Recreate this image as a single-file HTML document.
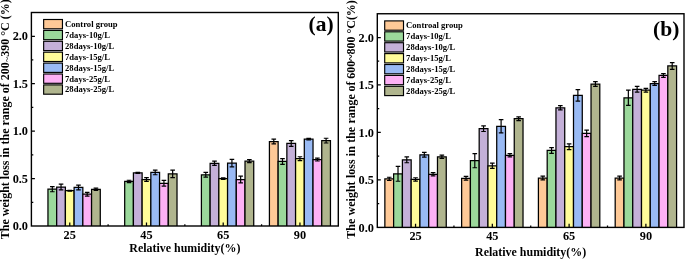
<!DOCTYPE html>
<html><head><meta charset="utf-8"><title>Weight loss vs relative humidity</title>
<style>html,body{margin:0;padding:0;background:#fff;}body{width:685px;height:259px;overflow:hidden;}svg{display:block;}text{font-family:"Liberation Serif",serif;font-weight:bold;}</style>
</head><body>
<svg width="685" height="259" viewBox="0 0 685 259" font-family="'Liberation Serif', serif" font-weight="bold" fill="#000">
<path d="M47.96 226.00V189.19h8.72V226.00" fill="#9BD89B" stroke="#000" stroke-width="1.25"/>
<path d="M56.68 226.00V187.01h8.72V226.00" fill="#C4B0D8" stroke="#000" stroke-width="1.25"/>
<path d="M65.40 226.00V190.71h8.72V226.00" fill="#FFFC99" stroke="#000" stroke-width="1.25"/>
<path d="M74.12 226.00V187.48h8.72V226.00" fill="#99BAF4" stroke="#000" stroke-width="1.25"/>
<path d="M82.84 226.00V194.22h8.72V226.00" fill="#FDB1F5" stroke="#000" stroke-width="1.25"/>
<path d="M91.56 226.00V189.29h8.72V226.00" fill="#B0B58E" stroke="#000" stroke-width="1.25"/>
<path d="M52.32 186.63V191.75M50.02 186.63h4.60M50.02 191.75h4.60" stroke="#000" stroke-width="1.2" fill="none"/>
<path d="M61.04 184.16V189.85M58.74 184.16h4.60M58.74 189.85h4.60" stroke="#000" stroke-width="1.2" fill="none"/>
<path d="M69.76 190.23V191.18M67.46 190.23h4.60M67.46 191.18h4.60" stroke="#000" stroke-width="1.2" fill="none"/>
<path d="M78.48 185.11V189.85M76.18 185.11h4.60M76.18 189.85h4.60" stroke="#000" stroke-width="1.2" fill="none"/>
<path d="M87.20 192.32V196.12M84.90 192.32h4.60M84.90 196.12h4.60" stroke="#000" stroke-width="1.2" fill="none"/>
<path d="M95.92 188.15V190.42M93.62 188.15h4.60M93.62 190.42h4.60" stroke="#000" stroke-width="1.2" fill="none"/>
<path d="M124.69 226.00V181.41h8.72V226.00" fill="#9BD89B" stroke="#000" stroke-width="1.25"/>
<path d="M133.41 226.00V172.87h8.72V226.00" fill="#C4B0D8" stroke="#000" stroke-width="1.25"/>
<path d="M142.13 226.00V179.51h8.72V226.00" fill="#FFFC99" stroke="#000" stroke-width="1.25"/>
<path d="M150.85 226.00V172.40h8.72V226.00" fill="#99BAF4" stroke="#000" stroke-width="1.25"/>
<path d="M159.57 226.00V183.31h8.72V226.00" fill="#FDB1F5" stroke="#000" stroke-width="1.25"/>
<path d="M168.29 226.00V173.82h8.72V226.00" fill="#B0B58E" stroke="#000" stroke-width="1.25"/>
<path d="M129.05 180.27V182.55M126.75 180.27h4.60M126.75 182.55h4.60" stroke="#000" stroke-width="1.2" fill="none"/>
<path d="M137.77 172.40V173.35M135.47 172.40h4.60M135.47 173.35h4.60" stroke="#000" stroke-width="1.2" fill="none"/>
<path d="M146.49 177.62V181.41M144.19 177.62h4.60M144.19 181.41h4.60" stroke="#000" stroke-width="1.2" fill="none"/>
<path d="M155.21 170.03V174.77M152.91 170.03h4.60M152.91 174.77h4.60" stroke="#000" stroke-width="1.2" fill="none"/>
<path d="M163.93 180.46V186.15M161.63 180.46h4.60M161.63 186.15h4.60" stroke="#000" stroke-width="1.2" fill="none"/>
<path d="M172.65 170.03V177.62M170.35 170.03h4.60M170.35 177.62h4.60" stroke="#000" stroke-width="1.2" fill="none"/>
<path d="M201.41 226.00V174.77h8.72V226.00" fill="#9BD89B" stroke="#000" stroke-width="1.25"/>
<path d="M210.13 226.00V163.29h8.72V226.00" fill="#C4B0D8" stroke="#000" stroke-width="1.25"/>
<path d="M218.85 226.00V178.56h8.72V226.00" fill="#FFFC99" stroke="#000" stroke-width="1.25"/>
<path d="M227.57 226.00V163.10h8.72V226.00" fill="#99BAF4" stroke="#000" stroke-width="1.25"/>
<path d="M236.29 226.00V179.51h8.72V226.00" fill="#FDB1F5" stroke="#000" stroke-width="1.25"/>
<path d="M245.01 226.00V161.20h8.72V226.00" fill="#B0B58E" stroke="#000" stroke-width="1.25"/>
<path d="M205.77 172.40V177.14M203.47 172.40h4.60M203.47 177.14h4.60" stroke="#000" stroke-width="1.2" fill="none"/>
<path d="M214.49 161.20V165.38M212.19 161.20h4.60M212.19 165.38h4.60" stroke="#000" stroke-width="1.2" fill="none"/>
<path d="M223.21 177.81V179.32M220.91 177.81h4.60M220.91 179.32h4.60" stroke="#000" stroke-width="1.2" fill="none"/>
<path d="M231.93 159.31V166.90M229.63 159.31h4.60M229.63 166.90h4.60" stroke="#000" stroke-width="1.2" fill="none"/>
<path d="M240.65 176.19V182.83M238.35 176.19h4.60M238.35 182.83h4.60" stroke="#000" stroke-width="1.2" fill="none"/>
<path d="M249.37 159.69V162.72M247.07 159.69h4.60M247.07 162.72h4.60" stroke="#000" stroke-width="1.2" fill="none"/>
<path d="M269.42 226.00V141.57h8.72V226.00" fill="#FEC997" stroke="#000" stroke-width="1.25"/>
<path d="M278.14 226.00V161.49h8.72V226.00" fill="#9BD89B" stroke="#000" stroke-width="1.25"/>
<path d="M286.86 226.00V143.46h8.72V226.00" fill="#C4B0D8" stroke="#000" stroke-width="1.25"/>
<path d="M295.58 226.00V158.64h8.72V226.00" fill="#FFFC99" stroke="#000" stroke-width="1.25"/>
<path d="M304.30 226.00V139.19h8.72V226.00" fill="#99BAF4" stroke="#000" stroke-width="1.25"/>
<path d="M313.02 226.00V159.59h8.72V226.00" fill="#FDB1F5" stroke="#000" stroke-width="1.25"/>
<path d="M321.74 226.00V140.62h8.72V226.00" fill="#B0B58E" stroke="#000" stroke-width="1.25"/>
<path d="M273.78 139.19V143.94M271.48 139.19h4.60M271.48 143.94h4.60" stroke="#000" stroke-width="1.2" fill="none"/>
<path d="M282.50 158.64V164.33M280.20 158.64h4.60M280.20 164.33h4.60" stroke="#000" stroke-width="1.2" fill="none"/>
<path d="M291.22 140.62V146.31M288.92 140.62h4.60M288.92 146.31h4.60" stroke="#000" stroke-width="1.2" fill="none"/>
<path d="M299.94 156.74V160.54M297.64 156.74h4.60M297.64 160.54h4.60" stroke="#000" stroke-width="1.2" fill="none"/>
<path d="M308.66 138.43V139.95M306.36 138.43h4.60M306.36 139.95h4.60" stroke="#000" stroke-width="1.2" fill="none"/>
<path d="M317.38 158.17V161.01M315.08 158.17h4.60M315.08 161.01h4.60" stroke="#000" stroke-width="1.2" fill="none"/>
<path d="M326.10 138.25V142.99M323.80 138.25h4.60M323.80 142.99h4.60" stroke="#000" stroke-width="1.2" fill="none"/>
<rect x="31.40" y="12.50" width="306.90" height="213.50" fill="none" stroke="#000" stroke-width="1.4"/>
<path d="M31.40 202.28h1.9M31.40 178.56h3.5M31.40 154.85h1.9M31.40 131.13h3.5M31.40 107.41h1.9M31.40 83.69h3.5M31.40 59.98h1.9M31.40 36.26h3.5M69.76 226.00v-3.6M146.49 226.00v-3.6M223.21 226.00v-3.6M299.94 226.00v-3.6M108.12 226.00v-1.8M184.85 226.00v-1.8M261.58 226.00v-1.8" stroke="#000" stroke-width="1.25" fill="none"/>
<text x="28.00" y="230.10" text-anchor="end" font-size="12.3">0.0</text>
<text x="28.00" y="182.66" text-anchor="end" font-size="12.3">0.5</text>
<text x="28.00" y="135.23" text-anchor="end" font-size="12.3">1.0</text>
<text x="28.00" y="87.79" text-anchor="end" font-size="12.3">1.5</text>
<text x="28.00" y="40.36" text-anchor="end" font-size="12.3">2.0</text>
<text x="69.76" y="238.90" text-anchor="middle" font-size="12.3">25</text>
<text x="146.49" y="238.90" text-anchor="middle" font-size="12.3">45</text>
<text x="223.21" y="238.90" text-anchor="middle" font-size="12.3">65</text>
<text x="299.94" y="238.90" text-anchor="middle" font-size="12.3">90</text>
<text x="184.85" y="251.50" text-anchor="middle" font-size="11.95">Relative humidity(%)</text>
<text transform="translate(8.50 119.22) rotate(-90)" text-anchor="middle" font-size="12.0">The weight loss in the range of 200<tspan dy="1.1" font-weight="normal" font-size="10">~</tspan><tspan dy="-1.1">390 °C (%)</tspan></text>
<text x="333.60" y="31.30" text-anchor="end" font-size="21.5">(a)</text>
<rect x="43.65" y="19.50" width="18.8" height="9.3" fill="#FEC997" stroke="#000" stroke-width="1.15"/>
<text x="65.05" y="27.00" font-size="8.6">Control group</text>
<rect x="43.65" y="30.40" width="18.8" height="9.3" fill="#9BD89B" stroke="#000" stroke-width="1.15"/>
<text x="65.05" y="37.90" font-size="8.6">7days-10g/L</text>
<rect x="43.65" y="41.30" width="18.8" height="9.3" fill="#C4B0D8" stroke="#000" stroke-width="1.15"/>
<text x="65.05" y="48.80" font-size="8.6">28days-10g/L</text>
<rect x="43.65" y="52.20" width="18.8" height="9.3" fill="#FFFC99" stroke="#000" stroke-width="1.15"/>
<text x="65.05" y="59.70" font-size="8.6">7days-15g/L</text>
<rect x="43.65" y="63.10" width="18.8" height="9.3" fill="#99BAF4" stroke="#000" stroke-width="1.15"/>
<text x="65.05" y="70.60" font-size="8.6">28days-15g/L</text>
<rect x="43.65" y="74.00" width="18.8" height="9.3" fill="#FDB1F5" stroke="#000" stroke-width="1.15"/>
<text x="65.05" y="81.50" font-size="8.6">7days-25g/L</text>
<rect x="43.65" y="84.90" width="18.8" height="9.3" fill="#B0B58E" stroke="#000" stroke-width="1.15"/>
<text x="65.05" y="92.40" font-size="8.6">28days-25g/L</text>
<path d="M384.86 227.40V178.88h8.77V227.40" fill="#FEC997" stroke="#000" stroke-width="1.25"/>
<path d="M393.62 227.40V173.85h8.77V227.40" fill="#9BD89B" stroke="#000" stroke-width="1.25"/>
<path d="M402.40 227.40V159.80h8.77V227.40" fill="#C4B0D8" stroke="#000" stroke-width="1.25"/>
<path d="M411.17 227.40V179.45h8.77V227.40" fill="#FFFC99" stroke="#000" stroke-width="1.25"/>
<path d="M419.94 227.40V154.76h8.77V227.40" fill="#99BAF4" stroke="#000" stroke-width="1.25"/>
<path d="M428.70 227.40V174.32h8.77V227.40" fill="#FDB1F5" stroke="#000" stroke-width="1.25"/>
<path d="M437.48 227.40V156.76h8.77V227.40" fill="#B0B58E" stroke="#000" stroke-width="1.25"/>
<path d="M389.24 177.27V180.49M386.94 177.27h4.60M386.94 180.49h4.60" stroke="#000" stroke-width="1.2" fill="none"/>
<path d="M398.01 166.44V181.25M395.71 166.44h4.60M395.71 181.25h4.60" stroke="#000" stroke-width="1.2" fill="none"/>
<path d="M406.78 156.85V162.74M404.48 156.85h4.60M404.48 162.74h4.60" stroke="#000" stroke-width="1.2" fill="none"/>
<path d="M415.55 177.74V181.16M413.25 177.74h4.60M413.25 181.16h4.60" stroke="#000" stroke-width="1.2" fill="none"/>
<path d="M424.32 152.39V157.14M422.02 152.39h4.60M422.02 157.14h4.60" stroke="#000" stroke-width="1.2" fill="none"/>
<path d="M433.09 172.71V175.94M430.79 172.71h4.60M430.79 175.94h4.60" stroke="#000" stroke-width="1.2" fill="none"/>
<path d="M441.86 155.05V158.47M439.56 155.05h4.60M439.56 158.47h4.60" stroke="#000" stroke-width="1.2" fill="none"/>
<path d="M461.64 227.40V178.31h8.77V227.40" fill="#FEC997" stroke="#000" stroke-width="1.25"/>
<path d="M470.41 227.40V160.65h8.77V227.40" fill="#9BD89B" stroke="#000" stroke-width="1.25"/>
<path d="M479.18 227.40V128.65h8.77V227.40" fill="#C4B0D8" stroke="#000" stroke-width="1.25"/>
<path d="M487.95 227.40V165.78h8.77V227.40" fill="#FFFC99" stroke="#000" stroke-width="1.25"/>
<path d="M496.72 227.40V126.28h8.77V227.40" fill="#99BAF4" stroke="#000" stroke-width="1.25"/>
<path d="M505.49 227.40V155.33h8.77V227.40" fill="#FDB1F5" stroke="#000" stroke-width="1.25"/>
<path d="M514.25 227.40V118.68h8.77V227.40" fill="#B0B58E" stroke="#000" stroke-width="1.25"/>
<path d="M466.02 176.41V180.21M463.72 176.41h4.60M463.72 180.21h4.60" stroke="#000" stroke-width="1.2" fill="none"/>
<path d="M474.79 153.53V167.77M472.49 153.53h4.60M472.49 167.77h4.60" stroke="#000" stroke-width="1.2" fill="none"/>
<path d="M483.56 125.80V131.50M481.26 125.80h4.60M481.26 131.50h4.60" stroke="#000" stroke-width="1.2" fill="none"/>
<path d="M492.33 163.21V168.34M490.03 163.21h4.60M490.03 168.34h4.60" stroke="#000" stroke-width="1.2" fill="none"/>
<path d="M501.10 119.63V132.92M498.80 119.63h4.60M498.80 132.92h4.60" stroke="#000" stroke-width="1.2" fill="none"/>
<path d="M509.87 153.72V156.95M507.57 153.72h4.60M507.57 156.95h4.60" stroke="#000" stroke-width="1.2" fill="none"/>
<path d="M518.64 116.78V120.58M516.34 116.78h4.60M516.34 120.58h4.60" stroke="#000" stroke-width="1.2" fill="none"/>
<path d="M538.41 227.40V178.03h8.77V227.40" fill="#FEC997" stroke="#000" stroke-width="1.25"/>
<path d="M547.19 227.40V150.49h8.77V227.40" fill="#9BD89B" stroke="#000" stroke-width="1.25"/>
<path d="M555.96 227.40V107.76h8.77V227.40" fill="#C4B0D8" stroke="#000" stroke-width="1.25"/>
<path d="M564.73 227.40V146.69h8.77V227.40" fill="#FFFC99" stroke="#000" stroke-width="1.25"/>
<path d="M573.50 227.40V95.42h8.77V227.40" fill="#99BAF4" stroke="#000" stroke-width="1.25"/>
<path d="M582.26 227.40V133.40h8.77V227.40" fill="#FDB1F5" stroke="#000" stroke-width="1.25"/>
<path d="M591.03 227.40V84.03h8.77V227.40" fill="#B0B58E" stroke="#000" stroke-width="1.25"/>
<path d="M542.80 176.13V179.93M540.50 176.13h4.60M540.50 179.93h4.60" stroke="#000" stroke-width="1.2" fill="none"/>
<path d="M551.57 147.64V153.34M549.27 147.64h4.60M549.27 153.34h4.60" stroke="#000" stroke-width="1.2" fill="none"/>
<path d="M560.34 105.67V109.85M558.04 105.67h4.60M558.04 109.85h4.60" stroke="#000" stroke-width="1.2" fill="none"/>
<path d="M569.11 143.84V149.54M566.81 143.84h4.60M566.81 149.54h4.60" stroke="#000" stroke-width="1.2" fill="none"/>
<path d="M577.88 89.72V101.12M575.58 89.72h4.60M575.58 101.12h4.60" stroke="#000" stroke-width="1.2" fill="none"/>
<path d="M586.65 130.08V136.72M584.35 130.08h4.60M584.35 136.72h4.60" stroke="#000" stroke-width="1.2" fill="none"/>
<path d="M595.42 81.65V86.40M593.12 81.65h4.60M593.12 86.40h4.60" stroke="#000" stroke-width="1.2" fill="none"/>
<path d="M615.19 227.40V178.03h8.77V227.40" fill="#FEC997" stroke="#000" stroke-width="1.25"/>
<path d="M623.97 227.40V97.79h8.77V227.40" fill="#9BD89B" stroke="#000" stroke-width="1.25"/>
<path d="M632.74 227.40V89.25h8.77V227.40" fill="#C4B0D8" stroke="#000" stroke-width="1.25"/>
<path d="M641.50 227.40V90.20h8.77V227.40" fill="#FFFC99" stroke="#000" stroke-width="1.25"/>
<path d="M650.27 227.40V83.55h8.77V227.40" fill="#99BAF4" stroke="#000" stroke-width="1.25"/>
<path d="M659.04 227.40V75.48h8.77V227.40" fill="#FDB1F5" stroke="#000" stroke-width="1.25"/>
<path d="M667.81 227.40V65.99h8.77V227.40" fill="#B0B58E" stroke="#000" stroke-width="1.25"/>
<path d="M619.58 176.13V179.93M617.28 176.13h4.60M617.28 179.93h4.60" stroke="#000" stroke-width="1.2" fill="none"/>
<path d="M628.35 90.20V105.39M626.05 90.20h4.60M626.05 105.39h4.60" stroke="#000" stroke-width="1.2" fill="none"/>
<path d="M637.12 86.40V92.10M634.82 86.40h4.60M634.82 92.10h4.60" stroke="#000" stroke-width="1.2" fill="none"/>
<path d="M645.89 88.30V92.10M643.59 88.30h4.60M643.59 92.10h4.60" stroke="#000" stroke-width="1.2" fill="none"/>
<path d="M654.66 81.65V85.45M652.36 81.65h4.60M652.36 85.45h4.60" stroke="#000" stroke-width="1.2" fill="none"/>
<path d="M663.43 73.58V77.38M661.13 73.58h4.60M661.13 77.38h4.60" stroke="#000" stroke-width="1.2" fill="none"/>
<path d="M672.20 62.66V69.31M669.90 62.66h4.60M669.90 69.31h4.60" stroke="#000" stroke-width="1.2" fill="none"/>
<rect x="377.30" y="13.75" width="306.70" height="213.65" fill="none" stroke="#000" stroke-width="1.4"/>
<path d="M377.30 203.66h1.9M377.30 179.93h3.5M377.30 156.19h1.9M377.30 132.45h3.5M377.30 108.71h1.9M377.30 84.97h3.5M377.30 61.24h1.9M377.30 37.50h3.5M415.55 227.40v-3.6M492.33 227.40v-3.6M569.11 227.40v-3.6M645.89 227.40v-3.6M453.94 227.40v-1.8M530.72 227.40v-1.8M607.50 227.40v-1.8" stroke="#000" stroke-width="1.25" fill="none"/>
<text x="373.90" y="231.50" text-anchor="end" font-size="12.3">0.0</text>
<text x="373.90" y="184.03" text-anchor="end" font-size="12.3">0.5</text>
<text x="373.90" y="136.55" text-anchor="end" font-size="12.3">1.0</text>
<text x="373.90" y="89.07" text-anchor="end" font-size="12.3">1.5</text>
<text x="373.90" y="41.60" text-anchor="end" font-size="12.3">2.0</text>
<text x="415.55" y="240.30" text-anchor="middle" font-size="12.3">25</text>
<text x="492.33" y="240.30" text-anchor="middle" font-size="12.3">45</text>
<text x="569.11" y="240.30" text-anchor="middle" font-size="12.3">65</text>
<text x="645.89" y="240.30" text-anchor="middle" font-size="12.3">90</text>
<text x="530.65" y="256.10" text-anchor="middle" font-size="11.95">Relative humidity(%)</text>
<text transform="translate(354.80 119.40) rotate(-90)" text-anchor="middle" font-size="12.0">The<tspan dx="0.28"> weight</tspan><tspan dx="0.28"> loss</tspan><tspan dx="0.28"> in</tspan><tspan dx="0.28"> the</tspan><tspan dx="0.28"> range</tspan><tspan dx="-0.2"> of</tspan><tspan dx="-0.2"> 600~800</tspan><tspan dx="-0.2"> °C(%)</tspan></text>
<text x="679.30" y="36.20" text-anchor="end" font-size="21.5">(b)</text>
<rect x="384.70" y="20.90" width="18.8" height="9.3" fill="#FEC997" stroke="#000" stroke-width="1.15"/>
<text x="406.10" y="28.40" font-size="8.6">Controal group</text>
<rect x="384.70" y="31.80" width="18.8" height="9.3" fill="#9BD89B" stroke="#000" stroke-width="1.15"/>
<text x="406.10" y="39.30" font-size="8.6">7days-10g/L</text>
<rect x="384.70" y="42.70" width="18.8" height="9.3" fill="#C4B0D8" stroke="#000" stroke-width="1.15"/>
<text x="406.10" y="50.20" font-size="8.6">28days-10g/L</text>
<rect x="384.70" y="53.60" width="18.8" height="9.3" fill="#FFFC99" stroke="#000" stroke-width="1.15"/>
<text x="406.10" y="61.10" font-size="8.6">7days-15g/L</text>
<rect x="384.70" y="64.50" width="18.8" height="9.3" fill="#99BAF4" stroke="#000" stroke-width="1.15"/>
<text x="406.10" y="72.00" font-size="8.6">28days-15g/L</text>
<rect x="384.70" y="75.40" width="18.8" height="9.3" fill="#FDB1F5" stroke="#000" stroke-width="1.15"/>
<text x="406.10" y="82.90" font-size="8.6">7days-25g/L</text>
<rect x="384.70" y="86.30" width="18.8" height="9.3" fill="#B0B58E" stroke="#000" stroke-width="1.15"/>
<text x="406.10" y="93.80" font-size="8.6">28days-25g/L</text>
</svg>
</body></html>
